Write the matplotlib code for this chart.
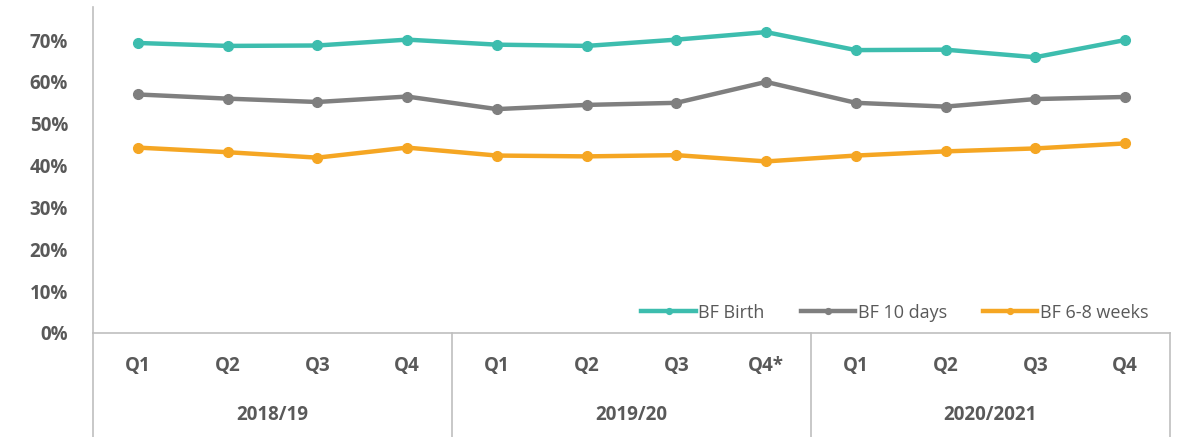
import matplotlib.pyplot as plt
from matplotlib.ticker import FuncFormatter

quarters = ['Q1', 'Q2', 'Q3', 'Q4', 'Q1', 'Q2', 'Q3', 'Q4*', 'Q1', 'Q2', 'Q3', 'Q4']
years = ['2018/19', '2019/20', '2020/2021']

bf_birth = [69.3, 68.6, 68.7, 70.1, 68.9, 68.6, 70.1, 71.9, 67.6, 67.7, 65.9, 70.0]
bf_10_days = [57.0, 56.0, 55.2, 56.5, 53.5, 54.5, 55.0, 60.0, 55.0, 54.1, 55.9, 56.4]
bf_6_8_weeks = [44.3, 43.2, 41.9, 44.3, 42.4, 42.2, 42.5, 41.0, 42.4, 43.4, 44.1, 45.3]

plt.rcParams['font.family'] = ['Open Sans', 'DejaVu Sans']
txt_col = '#595959'
axis_col = '#BFBFBF'

fig = plt.figure(figsize=(11.82, 4.37), dpi=100)
ax = fig.add_axes([0.0787, 0.238, 0.9111, 0.746])

x = list(range(len(quarters)))
ax.plot(x, bf_birth, color='#3DBDAE', lw=3.2, marker='o', ms=7, label='BF Birth')
ax.plot(x, bf_10_days, color='#7F7F7F', lw=3.2, marker='o', ms=7, label='BF 10 days')
ax.plot(x, bf_6_8_weeks, color='#F5A623', lw=3.2, marker='o', ms=7, label='BF 6-8 weeks')

ax.set_xlim(-0.5, len(quarters) - 0.5)
ax.set_ylim(0, 77.9)
ax.set_yticks(range(0, 80, 10))
ax.yaxis.set_major_formatter(FuncFormatter(lambda v, p: f'{v:.0f}%'))
ax.tick_params(axis='y', length=0, pad=18, labelsize=13.5, labelcolor=txt_col)
for lab in ax.get_yticklabels():
    lab.set_fontweight('bold')
ax.set_xticks([])

for s in ['top', 'right']:
    ax.spines[s].set_visible(False)
for s in ['left', 'bottom']:
    ax.spines[s].set_color(axis_col)
    ax.spines[s].set_linewidth(1.2)

# category box under the axis
trans = ax.get_xaxis_transform()
for b in [-0.5, 3.5, 7.5, 11.5]:
    ax.plot([b, b], [0, -0.5], color=axis_col, lw=1.2, transform=trans, clip_on=False)
for i, q in enumerate(quarters):
    ax.text(i, -0.1, q, transform=trans, ha='center', va='center',
            fontsize=13.5, fontweight='bold', color=txt_col)
for k, yr in enumerate(years):
    ax.text(4 * k + 1.5, -0.252, yr, transform=trans, ha='center', va='center',
            fontsize=13.5, fontweight='bold', color=txt_col)

leg = ax.legend(loc='lower right', bbox_to_anchor=(0.995, -0.015), ncol=3, frameon=False,
                fontsize=13, handlelength=3.0, columnspacing=2.0, handletextpad=0.15,
                labelcolor=txt_col, markerscale=0.6)

fig.savefig('out.png', dpi=100)
